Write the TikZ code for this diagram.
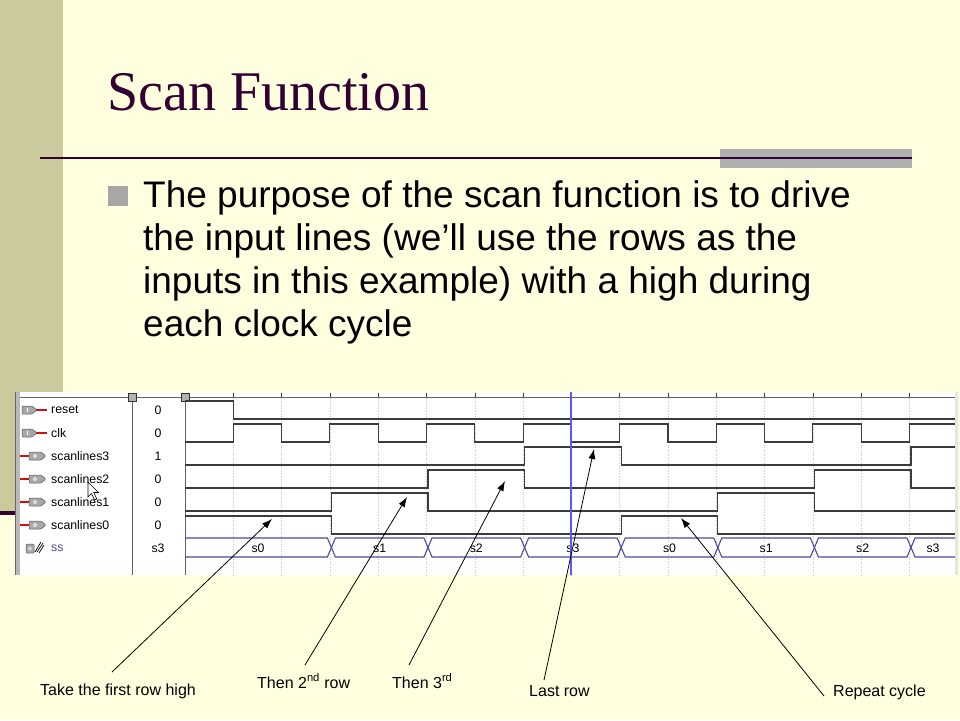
\documentclass[tikz,border=0pt]{standalone}
\usepackage{fontspec}
\setmainfont{Liberation Serif}
\newfontfamily\arialf{Liberation Sans}
\usetikzlibrary{arrows.meta}
\definecolor{slidebg}{HTML}{FFFFDF}
\definecolor{olive}{HTML}{CBCA9C}
\definecolor{titlecol}{HTML}{330033}
\definecolor{barg}{HTML}{B0B0B0}
\definecolor{sigc}{HTML}{3C3C3C}
\definecolor{busc}{HTML}{4A4A9E}
\definecolor{curc}{HTML}{5A5AF0}
\definecolor{iconc}{HTML}{A8A8A8}
\definecolor{redc}{HTML}{D01010}
\tikzset{
  sig/.style={draw=sigc, line width=1.1pt},
  bus/.style={draw=busc, line width=1.1pt},
  grid/.style={draw=gray!45, line width=0.6pt, dotted},
  frame/.style={draw=sigc!80, line width=0.9pt},
  sname/.style={font=\arialf\fontsize{12.3}{14}\selectfont, anchor=west, inner sep=0pt},
  sval/.style={font=\arialf\fontsize{12.3}{14}\selectfont, anchor=center, inner sep=0pt},
  lbl/.style={font=\arialf\fontsize{16}{18}\selectfont, anchor=base west, inner sep=0pt},
  bodytext/.style={font=\arialf\fontsize{37}{43}\selectfont, anchor=base west, inner sep=0pt},
  callout/.style={draw=black, line width=0.8pt, -{Latex[length=10pt,width=7pt]}},
  iconbody/.style={fill=iconc, draw=gray!70!black, line width=0.5pt, rounded corners=1pt},
  redline/.style={draw=redc, line width=2pt},
}
\begin{document}
\begin{tikzpicture}[x=1pt,y=-1pt]
\useasboundingbox (0,0) rectangle (960,720);
% background
\fill[slidebg] (0,0) rectangle (960,720);
\fill[olive] (0,0) rectangle (63,511);
\fill[titlecol] (0,511) rectangle (15,514.5);
% title
\node[font=\fontsize{56}{60}\selectfont, text=titlecol, anchor=base west, inner sep=0pt] (title) at (107,110) {Scan Function};
\fill[barg] (720,149) rectangle (912,168);
\draw[titlecol, line width=2pt] (40,157.5) -- (912,157.5);
% bullet
\fill[barg!95!black] (108,186) rectangle (128,206);
\node[bodytext] (b1) at (143,207) {The purpose of the scan function is to drive};
\node[bodytext] (b2) at (143,250) {the input lines (we’ll use the rows as the};
\node[bodytext] (b3) at (143,293) {inputs in this example) with a high during};
\node[bodytext] (b4) at (143,336) {each clock cycle};
% ---------- waveform panel ----------
\fill[white] (15,392) rectangle (957,575);
\fill[gray!55] (15,392) rectangle (20,575);
\draw[gray!80!black, line width=0.6pt] (15.3,392) -- (15.3,575);
\fill[gray!20] (955,392) rectangle (958,575);
% grid
\foreach \k in {1,...,15} {
  \draw[grid] ({185+48.3*\k},398) -- ({185+48.3*\k},575);
  \draw[sigc, line width=0.6pt] ({185+48.3*\k},392.5) -- ({185+48.3*\k},397.5);
}
% header / dividers
\draw[frame] (20,397.5) -- (955,397.5);
\draw[frame] (132,397.5) -- (132,575);
\draw[frame] (185,397.5) -- (185,575);
\filldraw[fill=gray!60, draw=gray!40!black, line width=0.5pt] (128,393.5) rectangle (136,401.5);
\filldraw[fill=gray!60, draw=gray!40!black, line width=0.5pt] (181,393.5) rectangle (189,401.5);
% names and values
\node[sname] (nreset) at (51,410) {reset};
\node[sname] (nclk) at (51,433) {clk};
\node[sname] (ns3) at (51,456) {scanlines3};
\node[sname] (ns2) at (51,479) {scanlines2};
\node[sname] (ns1) at (51,502) {scanlines1};
\node[sname] (ns0) at (51,525) {scanlines0};
\node[sname, text=busc] (nss) at (51,548) {ss};
\node[sval] (vreset) at (158,410) {0};
\node[sval] (vclk) at (158,433) {0};
\node[sval] (vs3) at (158,456) {1};
\node[sval] (vs2) at (158,479) {0};
\node[sval] (vs1) at (158,502) {0};
\node[sval] (vs0) at (158,525) {0};
\node[sval] (vss) at (158,548) {s3};
% icons: inputs
\foreach \y in {410,433} {
  \draw[redline] (35,\y) -- (47,\y);
  \draw[iconbody] (22,{\y-4}) -- (32,{\y-4}) -- (37,\y) -- (32,{\y+4}) -- (22,{\y+4}) -- cycle;
  \draw[white, line width=0.8pt] (27,{\y-2}) -- (27,{\y+2});
}
% icons: outputs
\foreach \y in {456,479,502,525} {
  \draw[redline] (20,\y) -- (30,\y);
  \draw[iconbody] (29,{\y-4}) -- (41,{\y-4}) -- (46,\y) -- (41,{\y+4}) -- (29,{\y+4}) -- cycle;
  \draw[white, line width=0.6pt] (35,\y) circle (1.6);
}
% bus icon
\draw[iconbody] (26,544) rectangle (34,553);
\draw[white, line width=0.6pt] (30,548.5) circle (1.5);
\draw[black, line width=0.7pt] (35,552) -- (41,542) (37,552) -- (43,543) (39,553) -- (44,545);
% signals
\draw[sig] (185,401) -- (233.3,401) -- (233.3,419) -- (955,419);
\draw[sig] (185,442) -- (233.3,442) -- (233.3,424) -- (281.6,424) -- (281.6,442) -- (329.9,442) -- (329.9,424) -- (378.2,424) -- (378.2,442) -- (426.5,442) -- (426.5,424) -- (474.8,424) -- (474.8,442) -- (523.1,442) -- (523.1,424) -- (571.4,424) -- (571.4,442) -- (619.7,442) -- (619.7,424) -- (668,424) -- (668,442) -- (716.3,442) -- (716.3,424) -- (764.6,424) -- (764.6,442) -- (812.9,442) -- (812.9,424) -- (861.2,424) -- (861.2,442) -- (909.5,442) -- (909.5,424) -- (955,424);
\draw[sig] (185,465) -- (524.6,465) -- (524.6,447) -- (621.2,447) -- (621.2,465) -- (911,465) -- (911,447) -- (955,447);
\draw[sig] (185,488) -- (428,488) -- (428,470) -- (524.6,470) -- (524.6,488) -- (814.4,488) -- (814.4,470) -- (911,470) -- (911,488) -- (955,488);
\draw[sig] (185,511) -- (331.4,511) -- (331.4,493) -- (428,493) -- (428,511) -- (717.8,511) -- (717.8,493) -- (814.4,493) -- (814.4,511) -- (955,511);
\draw[sig] (185,516) -- (331.4,516) -- (331.4,534) -- (621.2,534) -- (621.2,516) -- (717.8,516) -- (717.8,534) -- (955,534);
% bus
\draw[bus] (185,538) -- (327.4,538) -- (331.4,547.5) -- (327.4,557) -- (185,557);
\node[sval] (st0) at (258,548) {s0};
\foreach \a/\b/\s [count=\i] in {331.4/428/s1, 428/524.6/s2, 524.6/621.2/s3, 621.2/717.8/s0, 717.8/814.4/s1, 814.4/911/s2} {
  \draw[bus] (\a,547.5) -- ({\a+4},538) -- ({\b-4},538) -- (\b,547.5) -- ({\b-4},557) -- ({\a+4},557) -- cycle;
  \node[sval] (st\i) at ({(\a+\b)/2},548) {\s};
}
\draw[bus] (955,538) -- (915,538) -- (911,547.5) -- (915,557) -- (955,557);
\node[sval] (st7) at (933,548) {s3};
% cursor
\draw[curc, line width=1.3pt] (571,392) -- (571,575);
% mouse pointer
\draw[fill=white, draw=black, line width=0.6pt, shift={(88,482)}] (0,0) -- (0,15) -- (3.5,11.5) -- (6.5,18) -- (8.8,17) -- (5.8,10.5) -- (10.5,10.5) -- cycle;
% ---------- callouts ----------
\node[lbl] (L1) at (40,695) {Take the first row high};
\node[lbl] (L2) at (257,688) {Then 2\textsuperscript{nd} row};
\node[lbl] (L3) at (392,688) {Then 3\textsuperscript{rd}};
\node[lbl] (L4) at (529,696) {Last row};
\node[lbl] (L5) at (833,696) {Repeat cycle};
\coordinate (a1s) at (112,672); \coordinate (a1e) at (272,519);
\coordinate (a2s) at (305,665); \coordinate (a2e) at (407,497);
\coordinate (a3s) at (409,665); \coordinate (a3e) at (505,481);
\coordinate (a4s) at (544,680); \coordinate (a4e) at (594,449);
\coordinate (a5s) at (824,696); \coordinate (a5e) at (681,518);
\draw[callout] (a1s) -- (a1e);
\draw[callout] (a2s) -- (a2e);
\draw[callout] (a3s) -- (a3e);
\draw[callout] (a4s) -- (a4e);
\draw[callout] (a5s) -- (a5e);
\end{tikzpicture}
\end{document}
